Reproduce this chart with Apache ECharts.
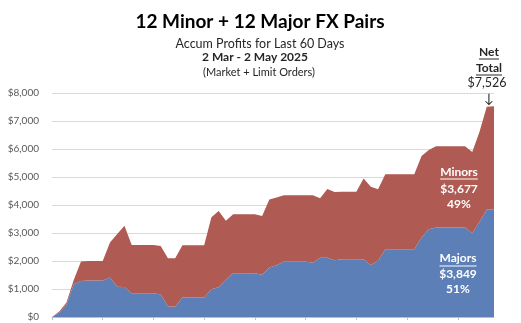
<!DOCTYPE html>
<html><head><meta charset="utf-8">
<script src="https://cdn.jsdelivr.net/npm/echarts@6/dist/echarts.min.js"></script>
<style>html,body{margin:0;padding:0;background:#fff}#c{width:521px;height:323px}</style>
</head><body><div id="c"></div>
<script>
const dates = ["2 Mar","3 Mar","4 Mar","5 Mar","6 Mar","7 Mar","8 Mar","9 Mar","10 Mar","11 Mar","12 Mar","13 Mar","14 Mar","15 Mar","16 Mar","17 Mar","18 Mar","19 Mar","20 Mar","21 Mar","22 Mar","23 Mar","24 Mar","25 Mar","26 Mar","27 Mar","28 Mar","29 Mar","30 Mar","31 Mar","1 Apr","2 Apr","3 Apr","4 Apr","5 Apr","6 Apr","7 Apr","8 Apr","9 Apr","10 Apr","11 Apr","12 Apr","13 Apr","14 Apr","15 Apr","16 Apr","17 Apr","18 Apr","19 Apr","20 Apr","21 Apr","22 Apr","23 Apr","24 Apr","25 Apr","26 Apr","27 Apr","28 Apr","29 Apr","30 Apr","1 May","2 May"];
const majors = [0,150,450,1170,1290,1300,1300,1300,1410,1080,1070,850,850,850,850,800,380,370,700,700,700,700,990,1060,1340,1560,1560,1560,1560,1510,1770,1850,1980,1980,1980,1980,1940,2120,2120,2030,2060,2060,2060,2060,1860,2010,2420,2420,2420,2420,2420,2840,3130,3200,3200,3200,3200,3200,2990,3400,3840,3849];
const minors = [0,50,70,150,690,700,700,700,1250,1880,2190,1720,1720,1720,1720,1740,1720,1730,1860,1860,1860,1860,2570,2730,2100,2110,2110,2110,2110,2100,2430,2420,2365,2365,2365,2365,2405,2120,2450,2430,2410,2410,2410,2890,2790,2550,2680,2680,2680,2680,2680,2910,2830,2900,2900,2900,2900,2900,2900,3220,3670,3677];
const yTickLabels = ["$0","$1,000","$2,000","$3,000","$4,000","$5,000","$6,000","$7,000","$8,000"];
const netTotal = "$7,526", minorsTotal = "$3,677", minorsPct = "49%", majorsTotal = "$3,849", majorsPct = "51%";

const FONT = 'Lato, "Noto Sans", sans-serif';
const ctx = document.createElement('canvas').getContext('2d');
function tw(txt, size, weight){ ctx.font = weight + ' ' + size + 'px ' + FONT; return ctx.measureText(txt).width; }
function txt(s, x, y, size, weight, color){
  return {type:'text', x:x, y:y, style:{text:s, font: weight+' '+size+'px '+FONT, fill:color, textAlign:'center', textVerticalAlign:'middle'}, z:100};
}
function ul(s, x, y, size, weight, color){
  const w = tw(s,size,weight);
  return {type:'line', shape:{x1:x-w/2, y1:y, x2:x+w/2, y2:y}, style:{stroke:color, lineWidth:1}, z:100};
}

const chart = echarts.init(document.getElementById('c'), null, {renderer:'canvas'});
chart.setOption({
  animation:false,
  grid:{left:52, right:27, top:93, bottom:6, containLabel:false},
  xAxis:{type:'category', data:dates, boundaryGap:false,
    axisLine:{lineStyle:{color:'#BFBFBF', width:1}},
    axisTick:{show:true, interval:6, length:3, lineStyle:{color:'#BFBFBF'}},
    axisLabel:{show:false}, splitLine:{show:false}},
  yAxis:{type:'value', min:0, max:8000, interval:1000,
    axisLine:{show:false}, axisTick:{show:false},
    axisLabel:{margin:13, fontSize:10, color:'#595959', fontFamily:FONT,
      formatter:(v)=>yTickLabels[Math.round(v/1000)]},
    splitLine:{lineStyle:{color:'#D9D9D9', width:1}}},
  series:[
    {name:'Majors', type:'line', stack:'t', data:majors, symbol:'none', lineStyle:{width:0}, areaStyle:{color:'#5B7FB6', opacity:1}},
    {name:'Minors', type:'line', stack:'t', data:minors, symbol:'none', lineStyle:{width:0}, areaStyle:{color:'#AF5A52', opacity:1}}
  ],
  graphic:[
    txt('12 Minor + 12 Major FX Pairs', 260, 22, 19, 'bold', '#000'),
    txt('Accum Profits for Last 60 Days', 260, 44, 12.5, 'normal', '#262626'),
    txt('2 Mar - 2 May 2025', 255, 57, 12, 'bold', '#262626'),
    txt('(Market + Limit Orders)', 259, 72, 11, 'normal', '#262626'),
    txt('Net', 489, 52, 12, 'bold', '#262626'), ul('Net', 489, 59, 12, 'bold', '#262626'),
    txt('Total', 489, 68, 12, 'bold', '#262626'), ul('Total', 489, 75, 12, 'bold', '#262626'),
    txt(netTotal, 487, 83, 12.5, 'normal', '#262626'),
    txt('\u2193', 489, 99, 13, 'normal', '#262626'),
    txt('Minors', 459, 172, 12, 'bold', '#fff'), ul('Minors', 459, 179, 12, 'bold', '#fff'),
    txt(minorsTotal, 459, 189, 12, 'bold', '#fff'),
    txt(minorsPct, 459, 204, 12, 'bold', '#fff'),
    txt('Majors', 458, 258, 12, 'bold', '#fff'), ul('Majors', 458, 266, 12, 'bold', '#fff'),
    txt(majorsTotal, 458, 274, 12, 'bold', '#fff'),
    txt(majorsPct, 458, 289, 12, 'bold', '#fff')
  ]
});
</script></body></html>
